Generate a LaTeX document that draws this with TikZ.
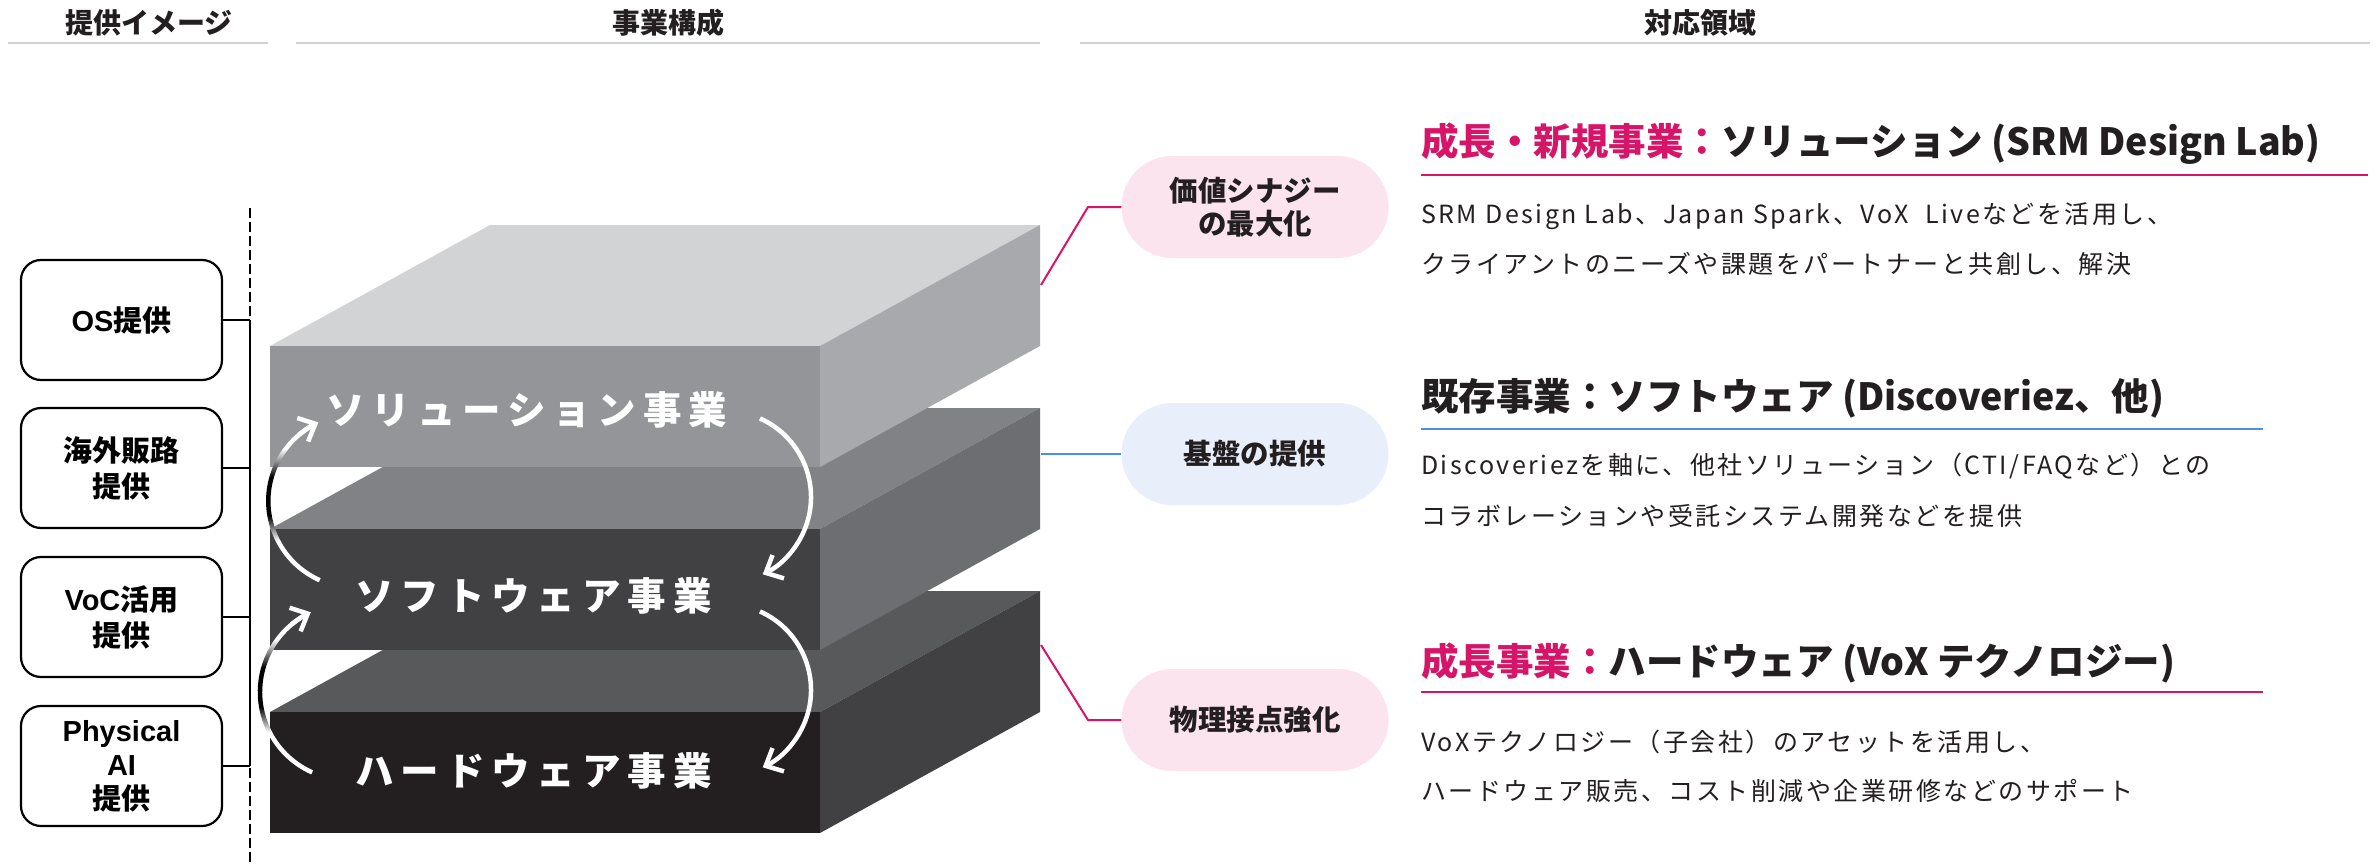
\documentclass[tikz,border=0pt]{standalone}
\usepackage{fontspec}
\setmainfont{Noto Sans CJK JP}
\newfontfamily\arialf{Liberation Sans}
\newfontfamily\trackfont{Noto Sans CJK JP}[LetterSpace=18]
\newfontfamily\bodyfont{Noto Sans CJK JP}[LetterSpace=10]
\usetikzlibrary{arrows.meta,calc}
\definecolor{pinkc}{RGB}{214,20,104}
\definecolor{bluec}{RGB}{74,144,226}
\definecolor{pinkfill}{RGB}{251,228,238}
\definecolor{bluefill}{RGB}{232,239,251}
\definecolor{hdrgray}{RGB}{210,210,210}
\definecolor{txt}{RGB}{35,31,32}
\definecolor{gA}{RGB}{209,211,212}
\definecolor{gB}{RGB}{147,149,152}
\definecolor{gC}{RGB}{167,169,172}
\definecolor{gD}{RGB}{128,130,133}
\definecolor{gE}{RGB}{65,64,66}
\definecolor{gF}{RGB}{109,110,113}
\definecolor{gG}{RGB}{88,89,91}
\definecolor{gH}{RGB}{35,31,32}
\definecolor{gI}{RGB}{65,64,66}
\pgfdeclareverticalshading{arcshade}{100bp}{color(0bp)=(white); color(38bp)=(white); color(46bp)=(black); color(58bp)=(black); color(67bp)=(white); color(100bp)=(white)}
\tikzset{
  hdr/.style={font=\fontsize{28}{32}\selectfont\bfseries, inner sep=0, text=txt},
  hdrline/.style={draw=hdrgray, line width=2.5},
  leftbox/.style={draw=black, line width=2.2, rounded corners=20, minimum width=201, minimum height=120, align=center, font=\fontsize{29}{36}\selectfont\bfseries, inner sep=0},
  thinline/.style={draw=black, line width=1.8},
  blocklabel/.style={font=\trackfont\fontsize{38.5}{40}\selectfont\bfseries, text=white, inner sep=0, anchor=west},
  arroww/.style={draw=white, line width=4.5, -{Straight Barb[length=14pt,width=26pt]}},
  ell/.style={minimum width=267, minimum height=102, rounded corners=51, inner sep=0, align=center, font=\fontsize{28.5}{33}\selectfont\bfseries, text=txt},
  head/.style={font=\fontsize{37.5}{40}\selectfont\bfseries, text=txt, inner sep=0, anchor=west},
  body/.style={font=\bodyfont\fontsize{25}{30}\selectfont, text=txt, inner sep=0, anchor=west},
  pinkline/.style={draw=pinkc, line width=2},
  blueline/.style={draw=bluec, line width=2},
}
\begin{document}
\begin{tikzpicture}[x=1pt,y=-1pt]
\useasboundingbox (0,0) rectangle (2380,864);
\fill[white] (0,0) rectangle (2380,864);
% headers
\node[hdr] (H1) at (149,23) {提供イメージ};
\node[hdr] (H2) at (668,23) {事業構成};
\node[hdr] (H3) at (1700,23) {対応領域};
\draw[hdrline] (8,43) -- (268,43);
\draw[hdrline] (296,43) -- (1040,43);
\draw[hdrline] (1080,43) -- (2370,43);
% left dashed spine
\draw[thinline, dash pattern=on 10 off 4] (250,208) -- (250,864);
% left boxes
\node[leftbox] (b1) at (121.5,320) {{\arialf OS}提供};
\node[leftbox] (b2) at (121.5,468) {海外販路\\提供};
\node[leftbox] (b3) at (121.5,617) {{\arialf VoC}活用\\提供};
\node[leftbox, font=\fontsize{29}{34}\selectfont\bfseries] (b4) at (121.5,766) {{\arialf Physical}\\{\arialf AI}\\提供};
\coordinate (v1) at (250,320);
\coordinate (v2) at (250,468);
\coordinate (v3) at (250,617);
\coordinate (v4) at (250,766);
\draw[thinline] (b1.east) -- (v1);
\draw[thinline] (b2.east) -- (v2);
\draw[thinline] (b3.east) -- (v3);
\draw[thinline] (b4.east) -- (v4);
\draw[thinline] (v1) -- (v4);
% blocks
\foreach \yT/\ct/\cf/\cs in {712/gG/gH/gI, 529/gD/gE/gF, 346/gA/gB/gC} {
  \fill[\ct] (270,\yT) -- (490,\yT-121) -- (1040,\yT-121) -- (820,\yT) -- cycle;
  \fill[\cf] (270,\yT) rectangle (820,\yT+121);
  \fill[\cs] (820,\yT) -- (1040,\yT-121) -- (1040,\yT) -- (820,\yT+121) -- cycle;
}
\node[blocklabel] (L1) at (326,410) {ソリューション事業};
\node[blocklabel] (L2) at (355,596) {ソフトウェア事業};
\node[blocklabel] (L3) at (355,771) {ハードウェア事業};
% right arcs
\coordinate (rc1) at (725,497);
\coordinate (rc2) at (725,690);
\draw[arroww] ($(rc1)+(-66:86)$) arc[start angle=-66, end angle=64, radius=86];
\draw[arroww] ($(rc2)+(-66:86)$) arc[start angle=-66, end angle=64, radius=86];
% left arcs (gradient)
\coordinate (lc1) at (355,501);
\coordinate (lc2) at (348,692);
\shade[shading=arcshade] ($(lc1)+(114:88.95)$) arc[start angle=114,end angle=241,radius=88.95] -- ($(lc1)+(241:84.45)$) arc[start angle=241,end angle=114,radius=84.45] -- cycle;
\draw[arroww] ($(lc1)+(230:86.7)$) arc[start angle=230, end angle=245, radius=86.7];
\shade[shading=arcshade] ($(lc2)+(114:90.25)$) arc[start angle=114,end angle=241,radius=90.25] -- ($(lc2)+(241:85.75)$) arc[start angle=241,end angle=114,radius=85.75] -- cycle;
\draw[arroww] ($(lc2)+(230:88)$) arc[start angle=230, end angle=245, radius=88];
% ellipses
\node[ell, fill=pinkfill] (e1) at (1255,207) {価値シナジー\\の最大化};
\node[ell, fill=bluefill] (e2) at (1255,454) {基盤の提供};
\node[ell, fill=pinkfill] (e3) at (1255,720) {物理接点強化};
\coordinate (k1a) at (1041,285);
\coordinate (k1b) at (1088,207);
\coordinate (k2a) at (1041,454);
\coordinate (k3a) at (1041,645);
\coordinate (k3b) at (1088,720);
\draw[pinkline] (k1a) -- (k1b) -- (e1.west);
\draw[blueline] (k2a) -- (e2.west);
\draw[pinkline] (k3a) -- (k3b) -- (e3.west);
% right texts
\node[head] (h1) at (1421,144) {{\color{pinkc}成長・新規事業：}ソリューション (SRM Design Lab)};
\draw[pinkline] (1421,175) -- (2368,175);
\node[body] (t1a) at (1421,216) {SRM Design Lab、Japan Spark、VoX~ Liveなどを活用し、};
\node[body] (t1b) at (1421,264) {クライアントのニーズや課題をパートナーと共創し、解決};
\node[head] (h2) at (1421,398) {既存事業：ソフトウェア (Discoveriez、他)};
\draw[blueline] (1421,429) -- (2263,429);
\node[body] (t2a) at (1421,466) {Discoveriezを軸に、他社ソリューション（CTI/FAQなど）との};
\node[body] (t2b) at (1421,516) {コラボレーションや受託システム開発などを提供};
\node[head] (h3) at (1421,663) {{\color{pinkc}成長事業：}ハードウェア (VoX テクノロジー)};
\draw[pinkline] (1421,692) -- (2263,692);
\node[body] (t3a) at (1421,742) {VoXテクノロジー（子会社）のアセットを活用し、};
\node[body] (t3b) at (1421,791) {ハードウェア販売、コスト削減や企業研修などのサポート};
\end{tikzpicture}
\end{document}
